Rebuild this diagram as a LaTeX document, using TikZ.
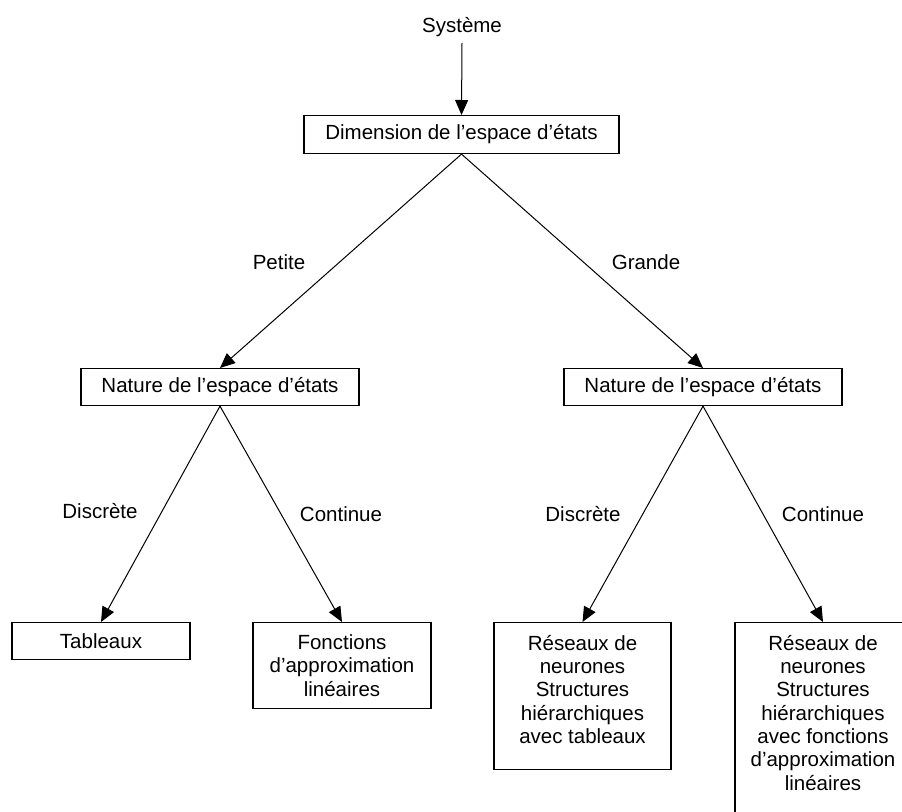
\documentclass[tikz,border=0pt]{standalone}
\usepackage{fontspec}
\setmainfont{Liberation Sans}
\usetikzlibrary{arrows.meta}
\begin{document}
\begin{tikzpicture}[x=1pt,y=-1pt,
  font=\fontsize{20.5}{23.3}\selectfont,
  box/.style={draw, line width=1.1pt, inner sep=0pt, align=center, anchor=north},
  conn/.style={line width=1pt, -{Triangle[length=15pt,width=13pt]}},
  lbl/.style={inner sep=0pt},
  tall/.style={box, label={[lbl, align=center, anchor=north, yshift=-13pt]north:#1}}]
\useasboundingbox (0,0) rectangle (902,811);
\clip (0,0) rectangle (902,811);
\node[lbl] (sys) at (462,27) {Système};
\node[box, minimum width=315, minimum height=38] (dim) at (461.5,115) {Dimension de l’espace d’états};
\node[box, minimum width=278, minimum height=37] (natL) at (220,368) {Nature de l’espace d’états};
\node[box, minimum width=278, minimum height=37] (natR) at (703,368) {Nature de l’espace d’états};
\node[box, minimum width=178, minimum height=37] (tab) at (101,622) {Tableaux};
\node[box, minimum width=178, minimum height=86] (fon) at (342,622) {Fonctions\\d’approximation\\linéaires};
\node[tall={Réseaux de\\neurones\\Structures\\hiérarchiques\\avec tableaux}, minimum width=177, minimum height=147] (res1) at (582.5,622) {};
\node[tall={Réseaux de\\neurones\\Structures\\hiérarchiques\\avec fonctions\\d’approximation\\linéaires}, minimum width=176, minimum height=240] (res2) at (823,622) {};
\draw[conn] ([yshift=-6pt]sys.south) -- (dim.north);
\draw[conn] (dim.south) -- (natL.north);
\draw[conn] (dim.south) -- (natR.north);
\draw[conn] (natL.south) -- (tab.north);
\draw[conn] (natL.south) -- (fon.north);
\draw[conn] (natR.south) -- (res1.north);
\draw[conn] (natR.south) -- (res2.north);
\node[lbl] (petite) at (279,262) {Petite};
\node[lbl] (grande) at (646,262) {Grande};
\node[lbl] (disL) at (100,511) {Discrète};
\node[lbl] (conL) at (341,514) {Continue};
\node[lbl] (disR) at (583,514) {Discrète};
\node[lbl] (conR) at (823,514) {Continue};
\end{tikzpicture}
\end{document}
